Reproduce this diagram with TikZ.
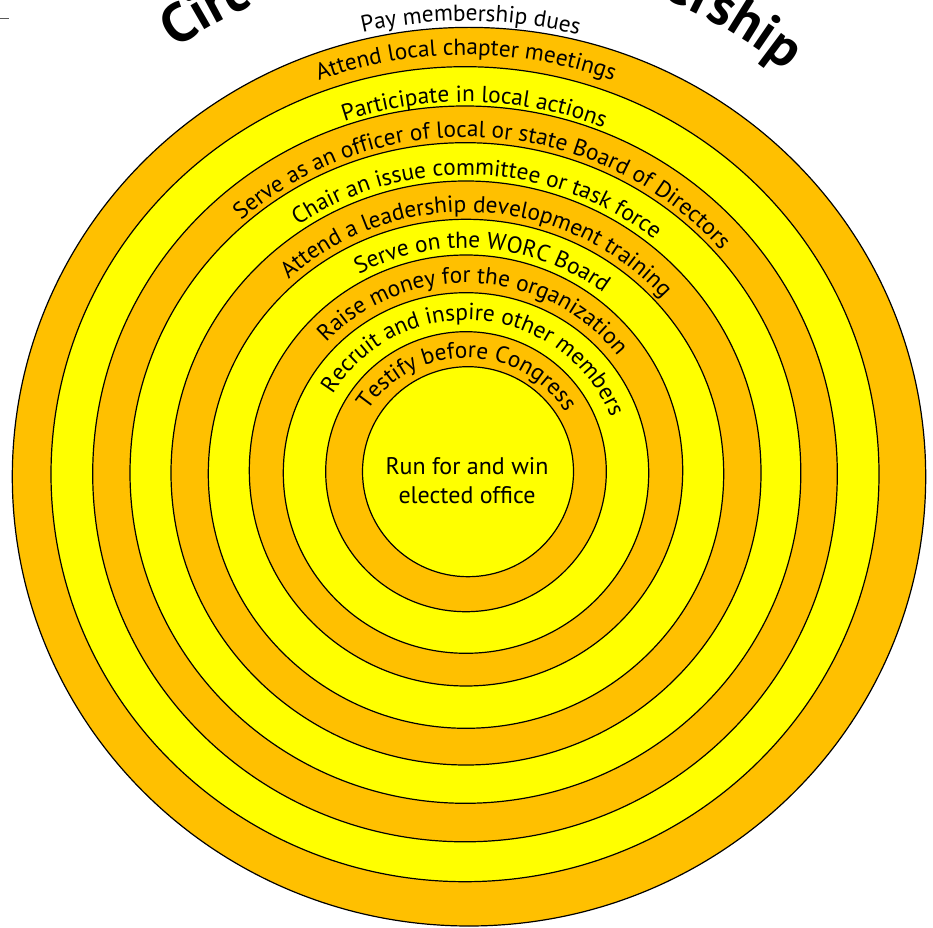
\documentclass[tikz,border=0pt]{standalone}
\usepackage{fontspec}
\setmainfont{PT Sans}
\usetikzlibrary{decorations.text,calc}
\definecolor{ringorange}{RGB}{255,192,0}
\definecolor{ringyellow}{RGB}{255,255,0}
\newcommand\lblfnt{\fontsize{23.3}{27}\selectfont}
\newcommand\titlefnt{\fontsize{55}{60}\selectfont\bfseries}
\newcommand\ringlabel[3]{%
  \path[decorate, decoration={text along path, text align=center, text={|\lblfnt|#3}}]
    (C) ++({180-#2}:{1.012*#1pt} and {#1pt})
    arc[start angle={180-#2}, end angle={-#2}, x radius={1.012*#1pt}, y radius={#1pt}];}
\begin{document}
\begin{tikzpicture}[x=1pt,y=1pt,
  ring/.style={draw=black, line width=1.2pt},
  orangering/.style={ring, fill=ringorange},
  yellowring/.style={ring, fill=ringyellow}]
\useasboundingbox (0,0) rectangle (933,927);
\clip (0,0) rectangle (933,927);
\coordinate (C) at (466,453);
% rings
\filldraw[orangering] (469,450.3) ellipse [x radius=456.7pt, y radius=449.3pt];
\filldraw[yellowring] (465,452.8) ellipse [x radius=414pt, y radius=407.5pt];
\filldraw[orangering] (465,453.1) ellipse [x radius=372.3pt, y radius=367.9pt];
\filldraw[yellowring] (465.4,454) ellipse [x radius=335.4pt, y radius=330.3pt];
\filldraw[orangering] (466,454) ellipse [x radius=295pt, y radius=292pt];
\filldraw[yellowring] (466,453.2) ellipse [x radius=257.7pt, y radius=254.5pt];
\filldraw[orangering] (466,456.5) ellipse [x radius=216.7pt, y radius=215.5pt];
\filldraw[yellowring] (466,454) ellipse [x radius=182.7pt, y radius=180.3pt];
\filldraw[orangering] (466,455.3) ellipse [x radius=140.3pt, y radius=140pt];
\filldraw[yellowring] (468,455.3) ellipse [x radius=105.5pt, y radius=105pt];
% labels
\ringlabel{453}{0.6}{Pay membership dues}
\ringlabel{419}{0}{Attend local chapter meetings}
\ringlabel{372}{1.3}{Participate in local actions}
\ringlabel{337}{3.6}{Serve as an officer of local or state Board of Directors}
\ringlabel{299}{2.4}{Chair an issue committee or task force}
\ringlabel{262}{3}{Attend a leadership development training}
\ringlabel{226}{4.5}{Serve on the WORC Board}
\ringlabel{191}{2.7}{Raise money for the organization}
\ringlabel{154}{4.8}{Recruit and inspire other members}
\ringlabel{116}{0.5}{Testify before Congress}
\node[font=\fontsize{24}{29}\selectfont, align=center] (core) at (467,446.5) {Run for and win\\elected office};
% title pieces
\path[decorate, decoration={text along path, text align=left, text={|\titlefnt|Circ}}]
  (C) ++(124.3:515pt) arc[start angle=124.3, end angle=80, radius=515pt];
\path[decorate, decoration={text along path, text align=right, text={|\titlefnt|ership}}]
  (C) ++(100:515pt) arc[start angle=100, end angle=51.5, radius=515pt];
% small mark at top left
\coordinate (markA) at (0,908.7);
\coordinate (markB) at (9,908.7);
\draw[black!65, line width=1pt] (markA) -- (markB);
\end{tikzpicture}
\end{document}
